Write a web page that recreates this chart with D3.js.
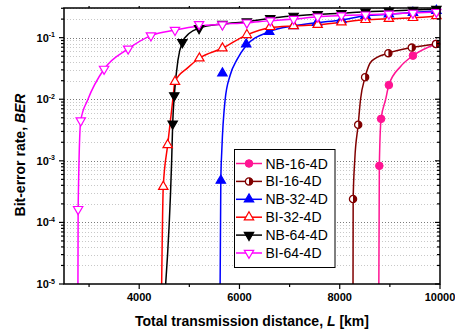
<!DOCTYPE html>
<html><head><meta charset="utf-8">
<script src="https://cdn.jsdelivr.net/npm/d3@7"></script>
<style>html,body{margin:0;padding:0;background:#fff;}svg{display:block;font-family:"Liberation Sans",Arial,sans-serif;}</style>
</head><body><svg id="c" width="455" height="332"></svg>
<script>
// ---------- data (distance in km, BER) ----------
const seriesNames = ["NB-16-4D","BI-16-4D","NB-32-4D","BI-32-4D","NB-64-4D","BI-64-4D"];
const seriesColors = ["#ff1493","#800000","#0000ff","#ff0000","#000000","#ff00ff"];

const distNB16 = [8790, 8825, 8980, 9460, 9920];
const berNB16  = [8.3e-4, 4.8e-3, 0.017, 0.051, 0.079];
const fitDistNB16 = [8780, 8790, 8825, 8914, 8980, 9214, 9460, 9920];
const fitBerNB16  = [1e-5, 8.3e-4, 4.8e-3, 0.0098, 0.017, 0.034, 0.051, 0.079];

const distBI16 = [8265, 8368, 8506, 8970, 9437, 9920];
const berBI16  = [2.4e-4, 3.85e-3, 0.0228, 0.056, 0.069, 0.079];
const fitDistBI16 = [8265, 8268, 8300, 8368, 8414, 8506, 8640, 8970, 9437, 9920];
const fitBerBI16  = [1e-5, 2.4e-4, 1.04e-3, 3.85e-3, 0.0098, 0.0228, 0.042, 0.056, 0.069, 0.079];

const distNB32 = [5628, 5660, 6134, 6594, 7080, 7548, 8034, 8514, 8980, 9460, 9928];
const berNB32  = [4.78e-4, 0.0264, 0.078, 0.125, 0.155, 0.175, 0.194, 0.227, 0.24, 0.255, 0.274];
const fitDistNB32 = [5614, 5628, 5648, 5714, 5814, 5950, 6120, 6594, 7080, 7548, 8034, 8514, 8980, 9460, 9928];
const fitBerNB32  = [1e-5, 4.78e-4, 1.5e-3, 0.0098, 0.0245, 0.044, 0.072, 0.125, 0.155, 0.175, 0.194, 0.227, 0.24, 0.255, 0.274];

const distBI32 = [4480, 4568, 4714, 5200, 5660, 6148, 6614, 7080, 7560, 8034, 8514, 8980, 9460, 9928];
const berBI32  = [3.8e-4, 1.81e-3, 0.0193, 0.0463, 0.0673, 0.111, 0.15, 0.155, 0.162, 0.178, 0.195, 0.203, 0.21, 0.225];
const fitDistBI32 = [4448, 4480, 4568, 4670, 4714, 4960, 5200, 5660, 6148, 6614, 7080, 7560, 8034, 8514, 8980, 9460, 9928];
const fitBerBI32  = [1e-5, 3.8e-4, 1.81e-3, 0.0098, 0.0193, 0.032, 0.0463, 0.0673, 0.111, 0.145, 0.155, 0.162, 0.178, 0.195, 0.203, 0.21, 0.225];

const distNB64 = [4668, 4700, 4860, 5194, 5660, 6148, 6614, 7080, 7560, 8034, 8514, 8980, 9460, 9928];
const berNB64  = [4.0e-3, 0.0115, 0.084, 0.142, 0.167, 0.182, 0.207, 0.225, 0.24, 0.249, 0.264, 0.271, 0.28, 0.292];
const fitDistNB64 = [4528, 4648, 4668, 4700, 4774, 4860, 5000, 5194, 5660, 6148, 6614, 7080, 7560, 8034, 8514, 8980, 9460, 9928];
const fitBerNB64  = [1e-5, 1.04e-3, 4.0e-3, 0.0115, 0.0435, 0.084, 0.118, 0.142, 0.167, 0.182, 0.207, 0.225, 0.24, 0.249, 0.264, 0.271, 0.28, 0.292];

const distBI64 = [2782, 2834, 3300, 3780, 4234, 4714, 5194, 5660, 6148, 6614, 7080, 7560, 8034, 8514, 8980, 9460, 9928];
const berBI64  = [1.64e-4, 4.5e-3, 0.031, 0.066, 0.108, 0.133, 0.165, 0.163, 0.175, 0.189, 0.2, 0.219, 0.229, 0.236, 0.243, 0.252, 0.261];
const fitDistBI64 = [2778, 2782, 2834, 2974, 3300, 3780, 4234, 4714, 5194, 5660, 6148, 6614, 7080, 7560, 8034, 8514, 8980, 9460, 9928];
const fitBerBI64  = [1e-5, 1.64e-4, 4.5e-3, 0.0098, 0.031, 0.066, 0.108, 0.133, 0.155, 0.165, 0.175, 0.189, 0.2, 0.219, 0.229, 0.236, 0.243, 0.252, 0.261];

const xTickValues = [4000, 6000, 8000, 10000];
const xMinorTicks = [3000, 5000, 7000, 9000];
const yTickExponents = [-5, -4, -3, -2, -1];

// ---------- build ----------
const series = [
  {name: seriesNames[0], color: seriesColors[0], marker: "circle",   dist: distNB16, ber: berNB16, fd: fitDistNB16, fb: fitBerNB16},
  {name: seriesNames[1], color: seriesColors[1], marker: "half",     dist: distBI16, ber: berBI16, fd: fitDistBI16, fb: fitBerBI16},
  {name: seriesNames[2], color: seriesColors[2], marker: "triUp",    dist: distNB32, ber: berNB32, fd: fitDistNB32, fb: fitBerNB32},
  {name: seriesNames[3], color: seriesColors[3], marker: "triUpO",   dist: distBI32, ber: berBI32, fd: fitDistBI32, fb: fitBerBI32},
  {name: seriesNames[4], color: seriesColors[4], marker: "triDown",  dist: distNB64, ber: berNB64, fd: fitDistNB64, fb: fitBerNB64},
  {name: seriesNames[5], color: seriesColors[5], marker: "triDownO", dist: distBI64, ber: berBI64, fd: fitDistBI64, fb: fitBerBI64}
];

const L = 64, R = 440, T = 8, B = 284;
const x = d3.scaleLinear().domain([2500, 10000]).range([L, R]);
const y = d3.scaleLog().domain([1e-5, 0.303]).range([B, T]);

const svg = d3.select("#c");
svg.append("defs").append("clipPath").attr("id", "clip")
  .append("rect").attr("x", L).attr("y", T).attr("width", R - L).attr("height", B - T);

// grid lines
const minorVals = [];
for (let e = -5; e <= -1; e++) for (let m = 2; m <= 9; m++) { const v = m * Math.pow(10, e); if (v <= 0.303) minorVals.push(v); }
const grid = svg.append("g");
grid.selectAll("line.mi").data(minorVals).enter().append("line")
  .attr("x1", L).attr("x2", R).attr("y1", d => Math.round(y(d)) + 0.5).attr("y2", d => Math.round(y(d)) + 0.5)
  .attr("stroke", "#c8c8c8").attr("stroke-width", 1).attr("stroke-dasharray", "1,2");
grid.selectAll("line.ma").data(yTickExponents.slice(1).map(e => Math.pow(10, e))).enter().append("line")
  .attr("x1", L).attr("x2", R).attr("y1", d => Math.round(y(d)) + 0.5).attr("y2", d => Math.round(y(d)) + 0.5)
  .attr("stroke", "#7a7a7a").attr("stroke-width", 1).attr("stroke-dasharray", "1,2");

// curves
const line = d3.line().x(d => x(d[0])).y(d => y(d[1])).curve(d3.curveMonotoneX);
const curves = svg.append("g").attr("clip-path", "url(#clip)");
series.forEach(s => {
  curves.append("path").datum(s.fd.map((d, i) => [d, s.fb[i]]))
    .attr("d", line).attr("fill", "none").attr("stroke", s.color).attr("stroke-width", 1.5);
});

// markers
function drawMarker(g, s, cx, cy) {
  const t = g.append("g").attr("transform", `translate(${cx},${cy})`);
  const triSize = 38;
  if (s.marker === "circle") {
    t.append("circle").attr("r", 3.8).attr("fill", s.color).attr("stroke", s.color).attr("stroke-width", 1);
  } else if (s.marker === "half") {
    t.append("circle").attr("r", 3.6).attr("fill", "#fff").attr("stroke", s.color).attr("stroke-width", 1.3);
    t.append("path").attr("d", "M0,-3.6A3.6,3.6 0 0 1 0,3.6Z").attr("fill", s.color);
  } else if (s.marker === "triUp" || s.marker === "triUpO") {
    t.append("path").attr("d", d3.symbol(d3.symbolTriangle, triSize)())
      .attr("fill", s.marker === "triUp" ? s.color : "#fff").attr("stroke", s.color).attr("stroke-width", 1.2);
  } else {
    t.append("path").attr("transform", "rotate(180)").attr("d", d3.symbol(d3.symbolTriangle, triSize)())
      .attr("fill", s.marker === "triDown" ? s.color : "#fff").attr("stroke", s.color).attr("stroke-width", 1.2);
  }
}
const marks = svg.append("g");
series.forEach(s => {
  s.dist.forEach((d, i) => drawMarker(marks, s, x(d), y(s.ber[i])));
});

// axes frame
const ax = svg.append("g").attr("stroke", "#000").attr("stroke-width", 1.5).attr("fill", "none");
ax.append("rect").attr("x", L).attr("y", T).attr("width", R - L).attr("height", B - T);

// y ticks (left outward, right inward)
const majorY = yTickExponents.map(e => Math.pow(10, e));
const tk = svg.append("g").attr("stroke", "#000").attr("stroke-width", 1.2);
majorY.forEach(v => {
  const yy = y(v);
  tk.append("line").attr("x1", L - 5).attr("x2", L).attr("y1", yy).attr("y2", yy);
  tk.append("line").attr("x1", R - 5).attr("x2", R).attr("y1", yy).attr("y2", yy);
});
minorVals.forEach(v => {
  const yy = y(v);
  tk.append("line").attr("x1", L - 3).attr("x2", L).attr("y1", yy).attr("y2", yy);
  tk.append("line").attr("x1", R - 3).attr("x2", R).attr("y1", yy).attr("y2", yy);
});
// x ticks
xTickValues.forEach(v => {
  tk.append("line").attr("x1", x(v)).attr("x2", x(v)).attr("y1", B).attr("y2", B + 5);
  tk.append("line").attr("x1", x(v)).attr("x2", x(v)).attr("y1", T).attr("y2", T - 2);
});
xMinorTicks.forEach(v => {
  tk.append("line").attr("x1", x(v)).attr("x2", x(v)).attr("y1", B).attr("y2", B + 3);
  tk.append("line").attr("x1", x(v)).attr("x2", x(v)).attr("y1", T).attr("y2", T - 2);
});

// tick labels
const lab = svg.append("g").attr("font-weight", "bold").attr("fill", "#000");
xTickValues.forEach(v => {
  lab.append("text").attr("x", x(v)).attr("y", 301).attr("text-anchor", "middle").attr("font-size", 11).text(v);
});
yTickExponents.forEach(e => {
  const yy = y(Math.pow(10, e));
  const t = lab.append("text").attr("x", 55).attr("y", yy + 4).attr("text-anchor", "end").attr("font-size", 11);
  t.append("tspan").text("10");
  t.append("tspan").attr("font-size", 7).attr("dy", -4.5).text(String(e).replace("-", "-"));
});

// axis titles
const xt = svg.append("text").attr("x", 252).attr("y", 325.5).attr("text-anchor", "middle")
  .attr("font-size", 14).attr("font-weight", "bold");
xt.append("tspan").text("Total transmission distance, ");
xt.append("tspan").attr("font-style", "italic").text("L");
xt.append("tspan").text(" [km]");
const yt = svg.append("text").attr("transform", "translate(25,155) rotate(-90)").attr("text-anchor", "middle")
  .attr("font-size", 14).attr("font-weight", "bold");
yt.append("tspan").text("Bit-error rate, ");
yt.append("tspan").attr("font-style", "italic").text("BER");

// legend
const lg = svg.append("g");
lg.append("rect").attr("x", 234.5).attr("y", 149.5).attr("width", 100.5).attr("height", 118)
  .attr("fill", "#fff").attr("stroke", "#000").attr("stroke-width", 1);
series.forEach((s, i) => {
  const yy = 163.5 + i * 17.9;
  lg.append("line").attr("x1", 236).attr("x2", 262).attr("y1", yy).attr("y2", yy)
    .attr("stroke", s.color).attr("stroke-width", 1.5);
  drawMarker(lg, s, 249, yy);
  lg.append("text").attr("x", 265.5).attr("y", yy + 5).attr("font-size", 14).attr("fill", "#000").text(s.name);
});
</script></body></html>
